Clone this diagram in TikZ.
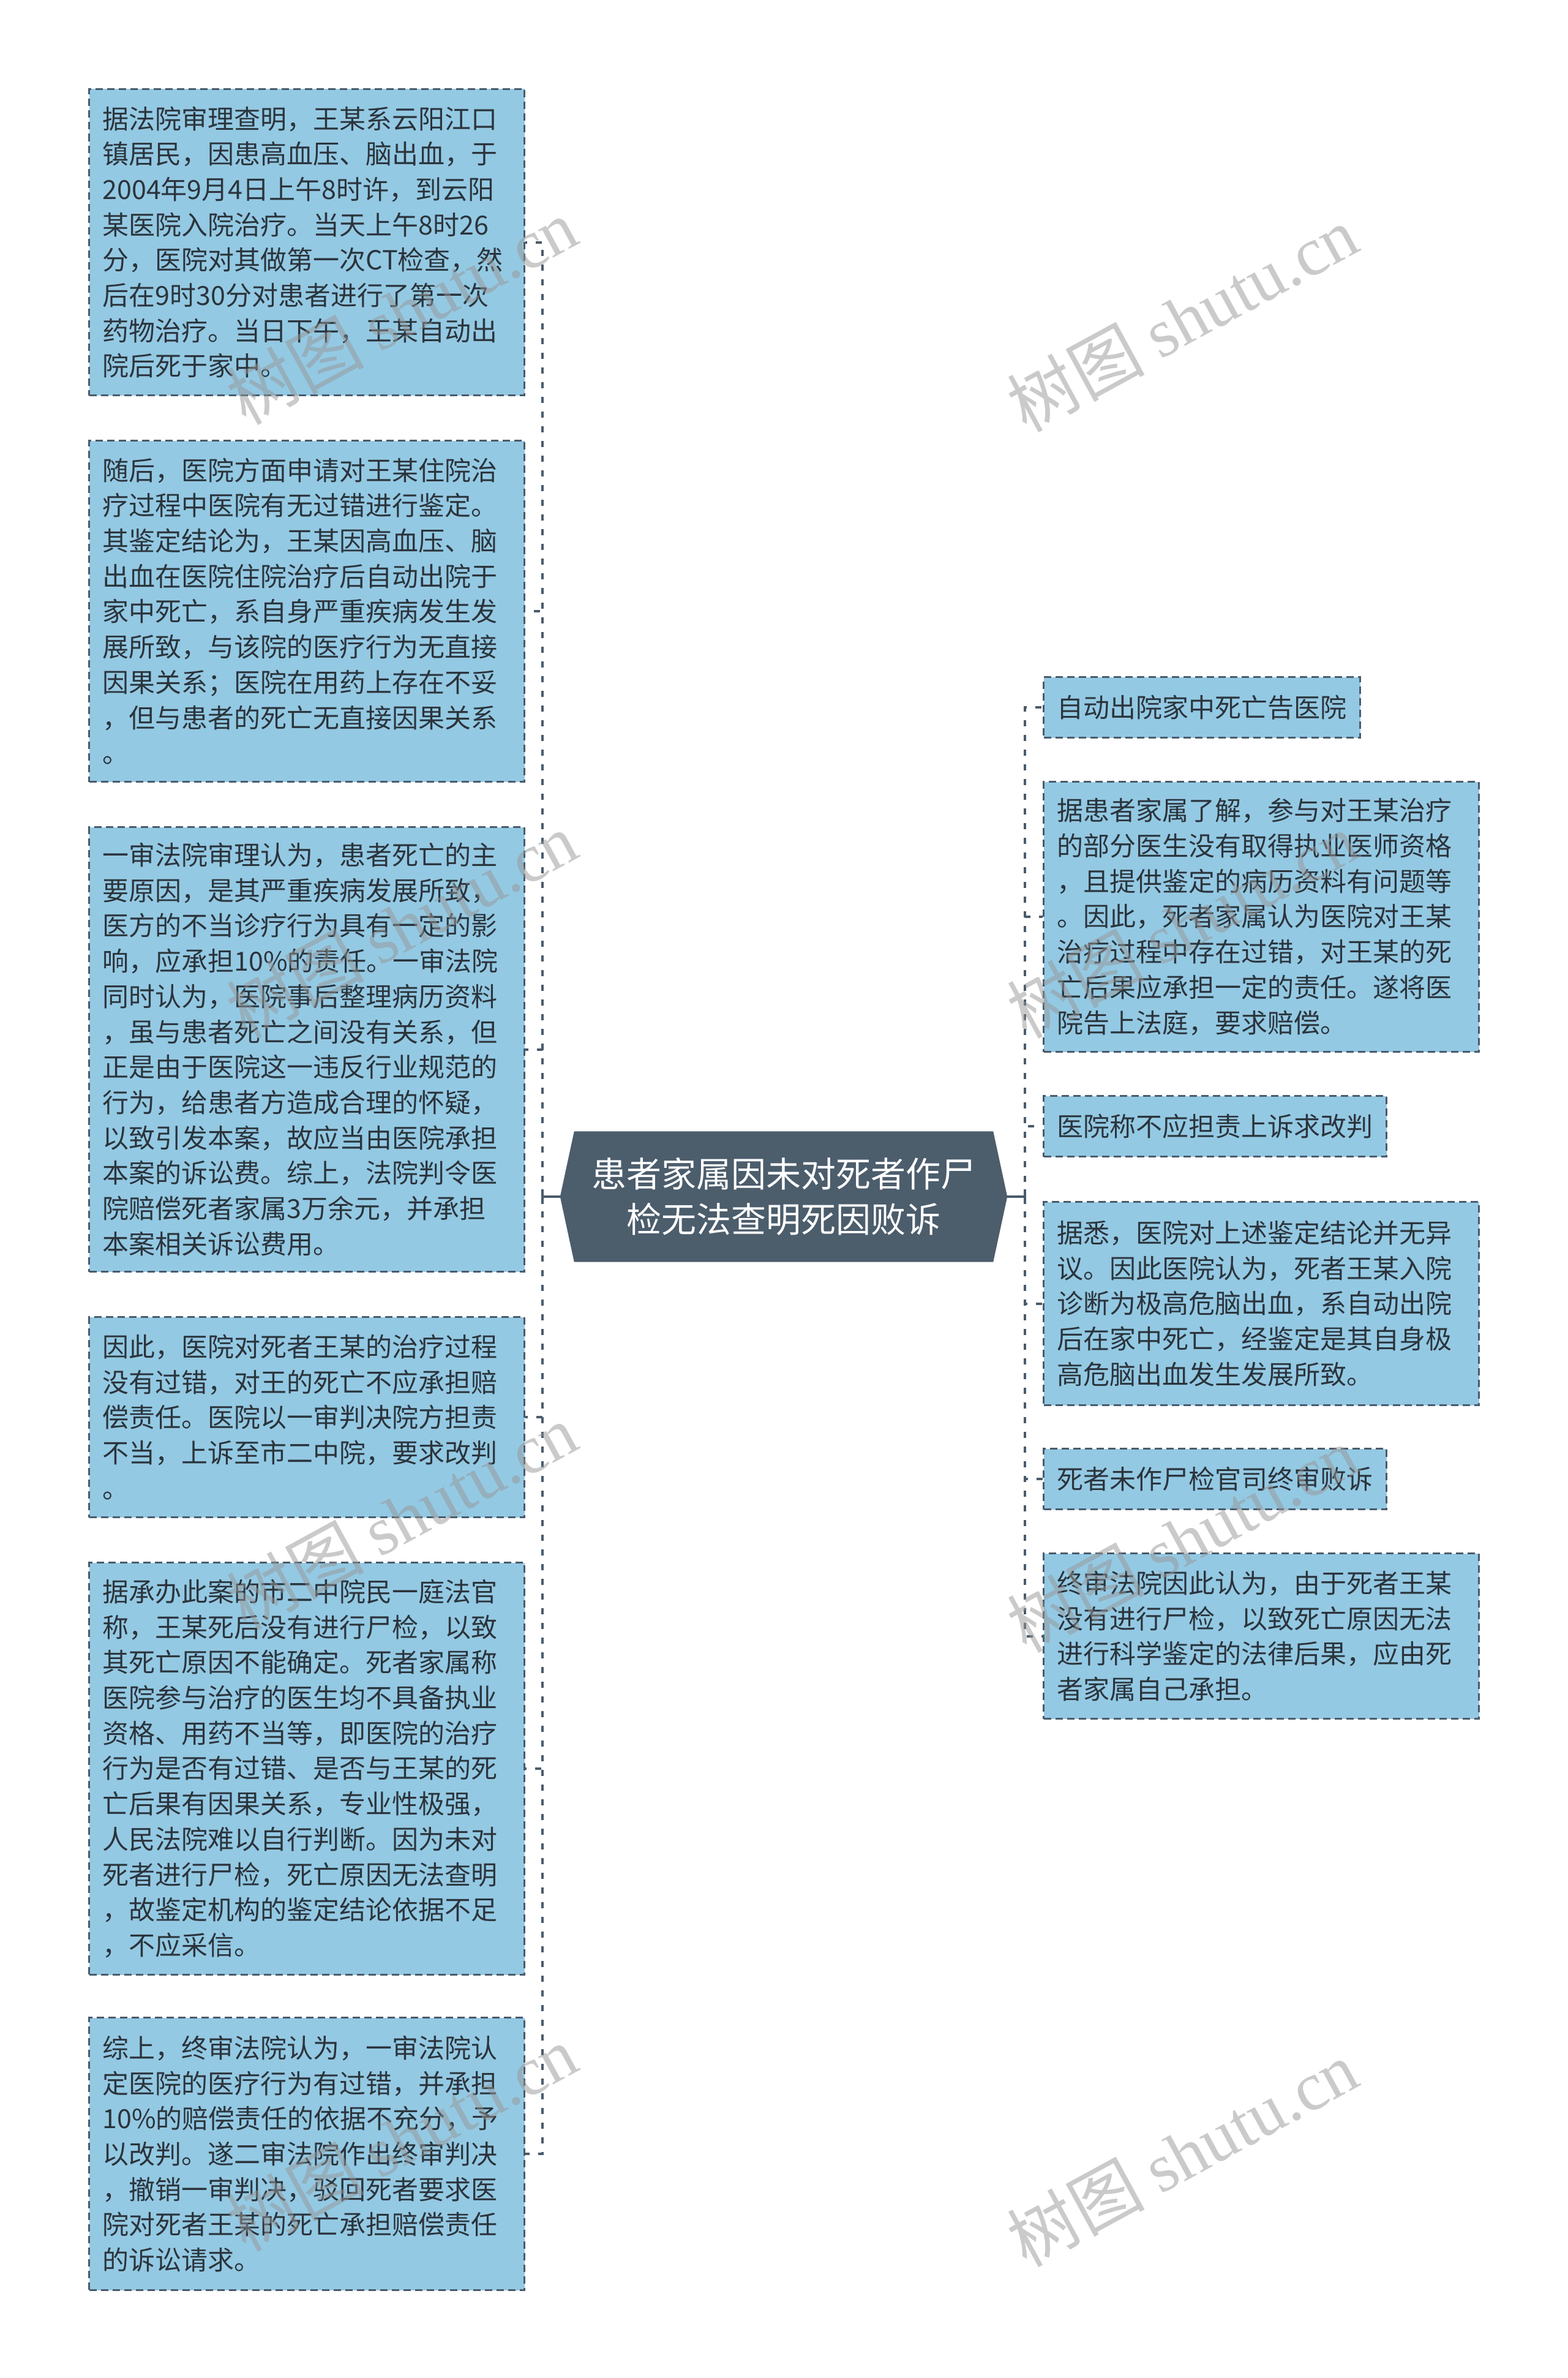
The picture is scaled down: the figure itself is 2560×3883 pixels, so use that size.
\documentclass[tikz,border=0pt]{standalone}
\usepackage{fontspec}
\setmainfont{Noto Sans CJK SC}
\newfontfamily\wmlatin{Liberation Serif}
\definecolor{boxfill}{RGB}{148,201,227}
\definecolor{edgecol}{RGB}{74,91,107}
\definecolor{ink}{RGB}{43,52,60}
\definecolor{hubcol}{RGB}{76,93,108}
\definecolor{wmcol}{RGB}{150,150,150}
\tikzset{
  leaf/.style={draw=edgecol, fill=boxfill, dash pattern=on 12pt off 7pt, line width=3pt,
    text=ink, font=\fontsize{43}{57.7}\selectfont, align=left, inner xsep=22pt, inner ysep=8pt,
    anchor=north west},
  longleaf/.style={leaf, text width=667pt},
  shortleaf/.style={leaf, minimum height=99pt},
  conn/.style={draw=edgecol, line width=4pt, dash pattern=on 10pt off 14pt},
  stub/.style={draw=edgecol, line width=4pt},
  hubtext/.style={text=white, font=\fontsize{57}{74}\selectfont, align=center,
    minimum width=730pt, minimum height=213pt, inner sep=0pt},
  wmark/.style={text=wmcol, opacity=0.5, font=\fontsize{112}{118}\selectfont, rotate=28.6, inner sep=0pt}
}
\begin{document}
\begin{tikzpicture}[x=1pt,y=-1pt]
\useasboundingbox (0,0) rectangle (2560,3883);
\fill[white] (0,0) rectangle (2560,3883);

% central topic
\node[hubtext] (c) at (1280,1954) {};
\fill[hubcol] (c.west) -- ([xshift=23pt]c.north west) -- ([xshift=-23pt]c.north east)
  -- (c.east) -- ([xshift=-23pt]c.south east) -- ([xshift=23pt]c.south west) -- cycle;
\node[hubtext] (ct) at (c) {患者家属因未对死者作尸\\检无法查明死因败诉};

% left leaves
\node[longleaf, minimum height=500pt] (L1) at (144,144) {据法院审理查明，王某系云阳江口\\镇居民，因患高血压、脑出血，于\\2004年9月4日上午8时许，到云阳\\某医院入院治疗。当天上午8时26\\分，医院对其做第一次CT检查，然\\后在9时30分对患者进行了第一次\\药物治疗。当日下午，王某自动出\\院后死于家中。};
\node[longleaf, minimum height=557pt] (L2) at (144,718) {随后，医院方面申请对王某住院治\\疗过程中医院有无过错进行鉴定。\\其鉴定结论为，王某因高血压、脑\\出血在医院住院治疗后自动出院于\\家中死亡，系自身严重疾病发生发\\展所致，与该院的医疗行为无直接\\因果关系；医院在用药上存在不妥\\，但与患者的死亡无直接因果关系\\。};
\node[longleaf, minimum height=726pt] (L3) at (144,1349) {一审法院审理认为，患者死亡的主\\要原因，是其严重疾病发展所致，\\医方的不当诊疗行为具有一定的影\\响，应承担10\%的责任。一审法院\\同时认为，医院事后整理病历资料\\，虽与患者死亡之间没有关系，但\\正是由于医院这一违反行业规范的\\行为，给患者方造成合理的怀疑，\\以致引发本案，故应当由医院承担\\本案的诉讼费。综上，法院判令医\\院赔偿死者家属3万余元，并承担\\本案相关诉讼费用。};
\node[longleaf, minimum height=327pt] (L4) at (144,2149) {因此，医院对死者王某的治疗过程\\没有过错，对王的死亡不应承担赔\\偿责任。医院以一审判决院方担责\\不当，上诉至市二中院，要求改判\\。};
\node[longleaf, minimum height=673pt] (L5) at (144,2550) {据承办此案的市二中院民一庭法官\\称，王某死后没有进行尸检，以致\\其死亡原因不能确定。死者家属称\\医院参与治疗的医生均不具备执业\\资格、用药不当等，即医院的治疗\\行为是否有过错、是否与王某的死\\亡后果有因果关系，专业性极强，\\人民法院难以自行判断。因为未对\\死者进行尸检，死亡原因无法查明\\，故鉴定机构的鉴定结论依据不足\\，不应采信。};
\node[longleaf, minimum height=445pt] (L6) at (144,3293) {综上，终审法院认为，一审法院认\\定医院的医疗行为有过错，并承担\\10\%的赔偿责任的依据不充分，予\\以改判。遂二审法院作出终审判决\\，撤销一审判决，驳回死者要求医\\院对死者王某的死亡承担赔偿责任\\的诉讼请求。};

% right leaves
\node[shortleaf] (R1) at (1703,1104) {自动出院家中死亡告医院};
\node[longleaf, minimum height=441pt] (R2) at (1703,1275) {据患者家属了解，参与对王某治疗\\的部分医生没有取得执业医师资格\\，且提供鉴定的病历资料有问题等\\。因此，死者家属认为医院对王某\\治疗过程中存在过错，对王某的死\\亡后果应承担一定的责任。遂将医\\院告上法庭，要求赔偿。};
\node[shortleaf] (R3) at (1703,1788) {医院称不应担责上诉求改判};
\node[longleaf, minimum height=332pt] (R4) at (1703,1961) {据悉，医院对上述鉴定结论并无异\\议。因此医院认为，死者王某入院\\诊断为极高危脑出血，系自动出院\\后在家中死亡，经鉴定是其自身极\\高危脑出血发生发展所致。};
\node[shortleaf] (R5) at (1703,2364) {死者未作尸检官司终审败诉};
\node[longleaf, minimum height=270pt] (R6) at (1703,2535) {终审法院因此认为，由于死者王某\\没有进行尸检，以致死亡原因无法\\进行科学鉴定的法律后果，应由死\\者家属自己承担。};

% connectors
\coordinate (lbus) at (886,1954);
\coordinate (rbus) at (1674,1954);
\draw[stub] (c.west) -- (lbus);
\draw[stub] ([yshift=12pt]lbus) -- ([yshift=-12pt]lbus);
\draw[stub] (c.east) -- (rbus);
\draw[stub] ([yshift=12pt]rbus) -- ([yshift=-12pt]rbus);
\foreach \n in {L1,L2,L3,L4,L5,L6}{
  \draw[conn] (lbus) |- (\n.east);
}
\foreach \n in {R1,R2,R3,R4,R5,R6}{
  \draw[conn] (rbus) |- (\n.west);
}

% watermarks
\node[wmark] (w1) at (656,508) {树图 {\wmlatin shutu.cn}};
\node[wmark] (w2) at (1931,520) {树图 {\wmlatin shutu.cn}};
\node[wmark] (w3) at (656,1510) {树图 {\wmlatin shutu.cn}};
\node[wmark] (w4) at (1931,1510) {树图 {\wmlatin shutu.cn}};
\node[wmark] (w5) at (656,2476) {树图 {\wmlatin shutu.cn}};
\node[wmark] (w6) at (1931,2513) {树图 {\wmlatin shutu.cn}};
\node[wmark] (w7) at (656,3491) {树图 {\wmlatin shutu.cn}};
\node[wmark] (w8) at (1931,3516) {树图 {\wmlatin shutu.cn}};
\end{tikzpicture}
\end{document}
